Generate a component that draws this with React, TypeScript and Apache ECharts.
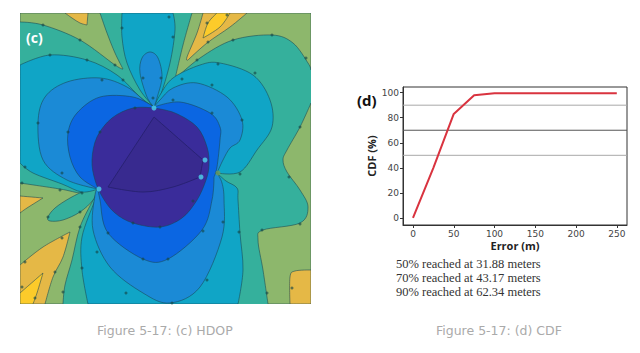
import React, { useEffect, useRef } from "react";
import * as echarts from "echarts";

type P = number[];
// Contour regions: vertices in map units; a third value of 1 marks a sharp corner.
const backgroundGreen: P[] = [[20,13,1],[311,13,1],[311,304,1],[20,304,1]];
const oliveTopLeft: P[] = [[20,13,1],[100,13,1],[107,33],[115,53],[123,69,1],[115,65],[80,40],[43,25],[20,22,1]];
const oliveTopRight: P[] = [[192,13,1],[183,45],[175,79,1],[200,58],[233,40],[272,35],[293,43],[308,63],[311,70,1],[311,13,1]];
const oliveBottomRight: P[] = [[311,103,1],[300,127],[287,150],[283,160],[287,172],[300,190],[308,207],[300,223],[263,230],[258,240],[263,270],[268,304,1],[311,304,1]];
const oliveBottomLeft: P[] = [[20,183,1],[60,189],[82,193],[98,189,1],[93,200],[80,227],[72,260],[65,285],[63,304,1],[20,304,1]];
const orangeTopLeft: P[] = [[65,13,1],[88,13,1],[87,25,1],[80,23],[72,18]];
const orangeTopRight: P[] = [[203,13,1],[247,13,1],[230,27],[207,43],[188,60,1],[187,57],[197,33]];
const yellowTopRight: P[] = [[217,13,1],[230,13,1],[220,27],[203,38,1],[208,23]];
const orangeLeft: P[] = [[20,196,1],[43,198,1],[27,208],[20,213,1]];
const orangeBottomLeft: P[] = [[20,265,1],[43,247],[70,232,1],[63,257],[53,277],[45,304,1],[20,304,1]];
const yellowBottomLeft: P[] = [[20,293,1],[43,273,1],[37,293],[33,304,1],[20,304,1]];
const orangeBottomRight: P[] = [[290,304,1],[290,277],[295,271],[311,270,1],[311,304,1]];
const greenPetal: P[] = [[48,217],[55,208],[70,198],[87,190],[97,189,1],[93,200],[80,212],[63,220],[50,221]];
const tealTop: P[] = [[122,13,1],[122,37],[127,63],[140,90],[154,107,1],[160,97],[170,63],[175,30],[173,13,1]];
const tealLeft: P[] = [[20,65,1],[50,55],[87,60],[117,75],[140,97],[154,107,1],[98,189,1],[82,192],[62,184],[33,173],[20,163,1]];
const tealRight: P[] = [[154,107,1],[160,95],[173,78],[200,65],[220,63],[253,75],[270,100],[272,127],[257,150],[240,172],[217,173,1]];
const tealBottom: P[] = [[98,189,1],[95,200],[82,237],[82,270],[88,304,1],[238,304,1],[243,270],[240,233],[238,200],[237,188],[226,181],[217,173,1]];
const blueMidTop: P[] = [[140,73],[142,58],[150,52],[158,58],[162,77],[157,98],[154,107,1],[147,97]];
const blueMidLeft: P[] = [[38,123],[45,97],[67,82],[100,78],[127,87],[147,103],[154,107,1],[98,189,1],[67,180],[43,160]];
const blueMidRight: P[] = [[154,107,1],[160,100],[173,88],[197,83],[227,97],[242,120],[240,140],[230,148],[223,160],[217,173,1]];
const blueMidBottom: P[] = [[98,189,1],[95,195],[93,230],[110,267],[143,293],[170,303],[200,287],[222,237],[224,200],[222,183],[217,173,1]];
const blueDeep: P[] = [[154,107,1],[133,97],[100,97],[77,113],[68,133],[70,157],[80,177],[98,189,1],[100,200],[108,233],[143,259],[168,259],[202,230],[212,200],[214,177,1],[217,167],[220,140],[220,127],[210,113],[180,102]];
const purple: P[] = [[154,108,1],[133,108],[112,118],[97,137],[92,160],[95,180],[103,198],[115,213],[133,223],[160,227],[182,218],[197,200],[206,180],[209,165],[207,147],[197,127],[175,113]];
const purpleInner: P[] = [[154,117,1],[108,187,1],[143,192],[173,187],[200,177,1],[203,160,1]];

const C_PURPLE = "#3a2c9a", C_OLIVE = "#8db76c", C_GREEN = "#35b09c", C_TEAL = "#10a5c6", C_MID = "#1b8ad6", C_DEEP = "#0b66e2", C_ORANGE = "#e5b846", C_YELLOW = "#fccb2a";
const regions: { pts: P[]; fill: string }[] = [
  { pts: backgroundGreen, fill: C_GREEN },
  { pts: oliveTopLeft, fill: C_OLIVE }, { pts: oliveTopRight, fill: C_OLIVE },
  { pts: oliveBottomRight, fill: C_OLIVE }, { pts: oliveBottomLeft, fill: C_OLIVE },
  { pts: orangeTopLeft, fill: C_ORANGE }, { pts: orangeTopRight, fill: C_ORANGE },
  { pts: yellowTopRight, fill: C_YELLOW }, { pts: orangeLeft, fill: C_ORANGE },
  { pts: orangeBottomLeft, fill: C_ORANGE }, { pts: yellowBottomLeft, fill: C_YELLOW },
  { pts: orangeBottomRight, fill: C_ORANGE }, { pts: greenPetal, fill: C_GREEN },
  { pts: tealTop, fill: C_TEAL }, { pts: tealLeft, fill: C_TEAL },
  { pts: tealRight, fill: C_TEAL }, { pts: tealBottom, fill: C_TEAL },
  { pts: blueMidTop, fill: C_MID }, { pts: blueMidLeft, fill: C_MID },
  { pts: blueMidRight, fill: C_MID }, { pts: blueMidBottom, fill: C_MID },
  { pts: blueDeep, fill: C_DEEP }, { pts: purple, fill: C_PURPLE },
  { pts: purpleInner, fill: "#382a8f" },
];
const contourMarks: P[] = [[43,25],[80,40],[115,65],[50,55],[87,60],[123,80],[102,80],[38,123],[68,132],[100,132],[135,108],[122,28],[169,17],[173,37],[161,78],[143,78],[153,98],[207,23],[227,15],[208,42],[197,60],[233,40],[272,35],[306,58],[300,127],[218,64],[255,73],[182,79],[212,85],[242,120],[212,113],[173,100],[240,174],[25,167],[62,173],[22,183],[60,190],[82,193],[48,217],[80,212],[80,227],[62,238],[25,262],[22,287],[35,298],[63,292],[55,272],[82,268],[97,252],[108,233],[126,293],[143,259],[168,259],[203,231],[223,222],[239,232],[207,280],[172,303],[267,293],[292,288],[262,230],[300,224],[289,177],[133,223],[160,227],[193,201]];
const saddleSpot: P[] = [[218,173]];
const anchors: P[] = [[154,108],[205,160],[201,177],[99,189]];

const cdfX = [0, 25, 50, 75, 100, 125, 150, 175, 200, 225, 250];
const cdfY = [0, 40, 83, 98, 99.5, 99.6, 99.6, 99.6, 99.6, 99.6, 99.6];
const thresholds = [50, 70, 90];
const thresholdColors = ["#a8a8a8", "#555555", "#a8a8a8"];
const xTicks = [0, 50, 100, 150, 200, 250];
const yTicks = [0, 20, 40, 60, 80, 100];
const notes = ["50% reached at 31.88 meters", "70% reached at 43.17 meters", "90% reached at 62.34 meters"];

function regionPath(api: any, pts: P[]): string {
  const q = pts.map((p) => api.coord([p[0], p[1]]));
  const n = q.length;
  const tan = (i: number) => {
    if (pts[i][2]) return [0, 0];
    const a = q[(i - 1 + n) % n], b = q[(i + 1) % n];
    return [(b[0] - a[0]) / 6, (b[1] - a[1]) / 6];
  };
  let d = `M${q[0][0]} ${q[0][1]}`;
  for (let i = 0; i < n; i++) {
    const j = (i + 1) % n, t0 = tan(i), t1 = tan(j);
    d += `C${q[i][0] + t0[0]} ${q[i][1] + t0[1]} ${q[j][0] - t1[0]} ${q[j][1] - t1[1]} ${q[j][0]} ${q[j][1]}`;
  }
  return d + "Z";
}

const axisNameStyle = { fontFamily: "Open Sans", fontWeight: "bold", fontSize: 11, color: "#222222" };
const lastRegion = regions.length - 1;

const option: any = {
  animation: false,
  backgroundColor: "#ffffff",
  grid: [
    { left: 20, top: 13, width: 291, height: 291, show: false },
    { left: 403, top: 87, width: 224, height: 138, show: true, borderColor: "#333333", borderWidth: 1, backgroundColor: "#ffffff" },
  ],
  xAxis: [
    { gridIndex: 0, type: "value", min: 20, max: 311, show: false },
    {
      gridIndex: 1, type: "value", min: -12.25, max: 262.5, name: "Error (m)", nameLocation: "middle", nameGap: 15,
      nameTextStyle: axisNameStyle,
      axisLine: { show: true, onZero: false, lineStyle: { color: "#333333" } },
      axisTick: { show: true, length: 3, customValues: xTicks, lineStyle: { color: "#333333" } },
      splitLine: { show: false },
      axisLabel: { customValues: xTicks, fontFamily: "DejaVu Sans", fontSize: 9, color: "#444444", margin: 4 },
    },
  ],
  yAxis: [
    { gridIndex: 0, type: "value", min: 13, max: 304, inverse: true, show: false },
    {
      gridIndex: 1, type: "value", min: -5.6, max: 104.5, name: "CDF (%)", nameLocation: "middle", nameGap: 26,
      nameTextStyle: axisNameStyle,
      axisLine: { show: true, onZero: false, lineStyle: { color: "#333333" } },
      axisTick: { show: true, length: 3, customValues: yTicks, lineStyle: { color: "#333333" } },
      splitLine: { show: false },
      axisLabel: { customValues: yTicks, fontFamily: "DejaVu Sans", fontSize: 9, color: "#444444", margin: 4 },
    },
  ],
  series: [
    {
      type: "custom", xAxisIndex: 0, yAxisIndex: 0, clip: true, silent: true,
      data: regions.map((_, i) => [i]),
      renderItem: (params: any, api: any) => {
        const r = regions[params.dataIndex];
        const stroke = params.dataIndex === 0 ? "none" : params.dataIndex === lastRegion ? "#241f6b" : "rgba(25,70,80,0.7)";
        return {
          type: "path",
          shape: { pathData: regionPath(api, r.pts) },
          style: { fill: r.fill, stroke, lineWidth: 0.8 },
        };
      },
    },
    { type: "scatter", xAxisIndex: 0, yAxisIndex: 0, data: contourMarks, symbol: "circle", symbolSize: 3, silent: true, itemStyle: { color: "rgba(20,70,70,0.8)" } },
    { type: "scatter", xAxisIndex: 0, yAxisIndex: 0, data: saddleSpot, symbol: "circle", symbolSize: 5, silent: true, itemStyle: { color: "#6f9a5a" } },
    { type: "scatter", xAxisIndex: 0, yAxisIndex: 0, data: anchors, symbol: "circle", symbolSize: 5, silent: true, itemStyle: { color: "#4fd6ee" } },
    ...thresholds.map((v, i) => ({
      type: "line", xAxisIndex: 1, yAxisIndex: 1, silent: true, showSymbol: false,
      data: [[-12.25, v], [262.5, v]],
      lineStyle: { color: thresholdColors[i], width: 1 },
    })),
    {
      type: "line", xAxisIndex: 1, yAxisIndex: 1, silent: true, showSymbol: false,
      data: cdfX.map((x, i) => [x, cdfY[i]]),
      lineStyle: { color: "#d9333f", width: 2 },
    },
  ],
  graphic: [
    { type: "text", z: 100, left: 26, top: 30, style: { text: "(c)", fill: "#ffffff", font: "bold 14px 'Open Sans'" } },
    { type: "text", z: 100, left: 357, top: 92, style: { text: "(d)", fill: "#111111", font: "bold 15px 'Open Sans'" } },
    ...notes.map((t, i) => ({
      type: "text", z: 100, left: 396, top: 257 + i * 14.2,
      style: { text: t, fill: "#333333", font: "12.5px 'Liberation Serif'" },
    })),
    { type: "text", z: 100, left: 97, top: 324, style: { text: "Figure 5-17: (c) HDOP", fill: "#aaaaaa", font: "12.5px 'DejaVu Sans'" } },
    { type: "text", z: 100, left: 436, top: 324, style: { text: "Figure 5-17: (d) CDF", fill: "#aaaaaa", font: "12.5px 'DejaVu Sans'" } },
  ],
};

export default function App() {
  const ref = useRef<HTMLDivElement>(null);
  useEffect(() => {
    const chart = echarts.init(ref.current!, undefined, { renderer: "svg" });
    chart.setOption(option);
    return () => chart.dispose();
  }, []);
  return <div ref={ref} style={{ position: "fixed", left: 0, top: 0, width: 640, height: 353 }} />;
}
